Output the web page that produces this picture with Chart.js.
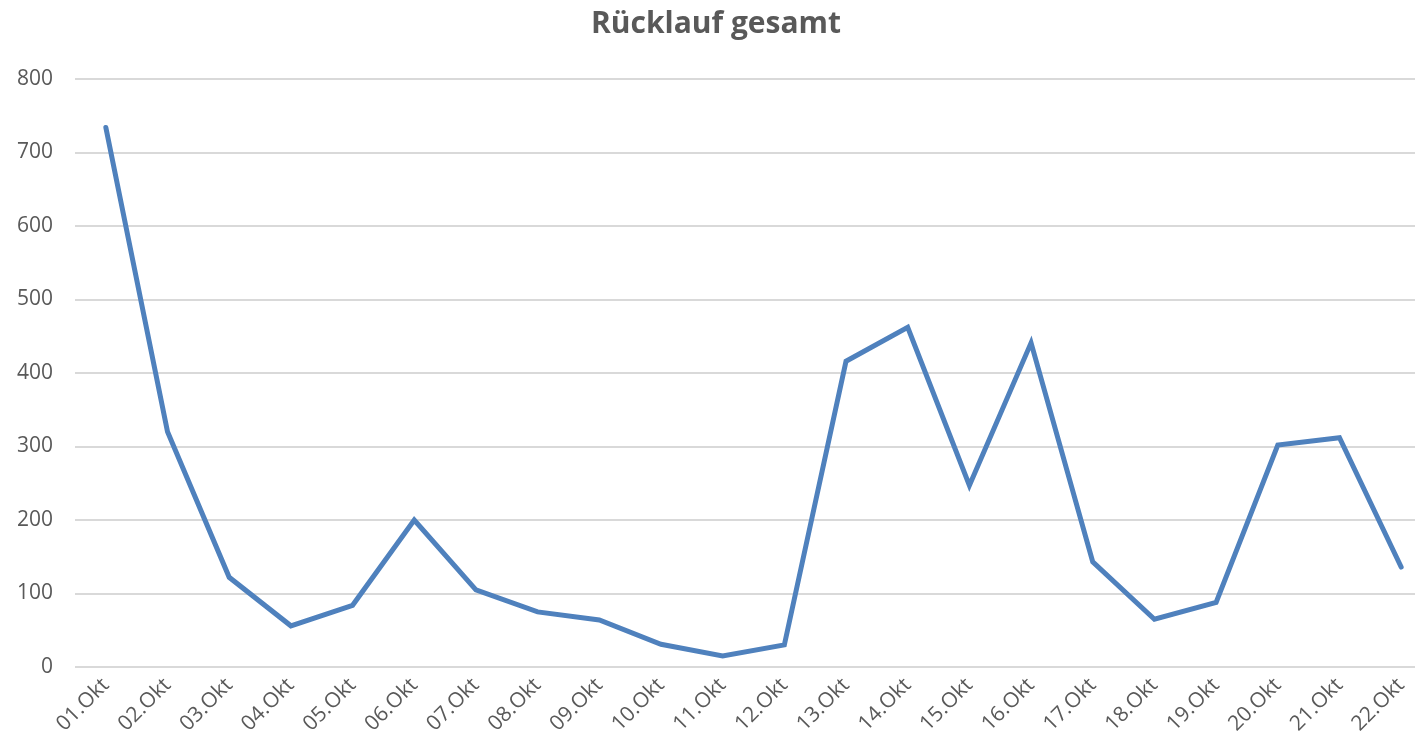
<!DOCTYPE html>
<html>
<head>
<meta charset="utf-8">
<title>Rücklauf gesamt</title>
<script src="https://cdn.jsdelivr.net/npm/chart.js@4/dist/chart.umd.min.js"></script>
<style>
    html, body { margin: 0; padding: 0; background: #fff; overflow: hidden; }
    #wrap { width: 1432px; height: 744px; }
</style>
</head>
<body>
<div id="wrap"><canvas id="ruecklaufChart" width="1432" height="744"></canvas></div>
<script>
// ========================================
// Rücklauf gesamt — Liniendiagramm
// ========================================

const days = ['01.Okt', '02.Okt', '03.Okt', '04.Okt', '05.Okt', '06.Okt', '07.Okt', '08.Okt',
    '09.Okt', '10.Okt', '11.Okt', '12.Okt', '13.Okt', '14.Okt', '15.Okt', '16.Okt',
    '17.Okt', '18.Okt', '19.Okt', '20.Okt', '21.Okt', '22.Okt'];
const ruecklauf = [734, 320, 122, 56, 84, 200, 105, 75, 64, 31, 15, 30,
    416, 462, 247, 441, 143, 65, 88, 302, 312, 136];
const yTicks = [0, 100, 200, 300, 400, 500, 600, 700, 800];

const textColor = '#595959';
const gridColor = '#d9d9d9';
const fontFamily = "'Open Sans', 'Liberation Sans', sans-serif";

const ctx = document.getElementById('ruecklaufChart');

new Chart(ctx, {
    type: 'line',
    data: {
        labels: days,
        datasets: [{
            label: 'Rücklauf gesamt',
            data: ruecklauf,
            borderColor: '#4f81bd',
            borderWidth: 5,
            pointRadius: 0,
            tension: 0,
            fill: false,
            borderJoinStyle: 'miter',
            borderCapStyle: 'round'
        }]
    },
    options: {
        responsive: false,
        animation: false,
        layout: { padding: { left: 0, right: 0, top: 0, bottom: 0 } },
        plugins: {
            legend: { display: false },
            tooltip: { enabled: false },
            title: {
                display: true,
                text: 'Rücklauf gesamt',
                color: textColor,
                font: { family: fontFamily, size: 30, weight: 'bold', lineHeight: 1.2 },
                padding: { top: 6, bottom: 37 }
            }
        },
        scales: {
            x: {
                offset: true,
                grid: { display: false, drawTicks: false },
                border: { display: false },
                ticks: {
                    color: textColor,
                    font: { family: fontFamily, size: 21 },
                    minRotation: 45,
                    maxRotation: 45,
                    autoSkip: false,
                    padding: 6
                },
                afterFit(scale) { scale.height = 77; }
            },
            y: {
                min: 0,
                max: 800,
                afterBuildTicks(scale) { scale.ticks = yTicks.map(v => ({ value: v })); },
                grid: { color: gridColor, lineWidth: 2, drawTicks: false },
                border: { display: false },
                ticks: {
                    color: textColor,
                    font: { family: fontFamily, size: 21 },
                    padding: 22
                },
                afterFit(scale) { scale.width = 75; }
            }
        }
    }
});
</script>
</body>
</html>
